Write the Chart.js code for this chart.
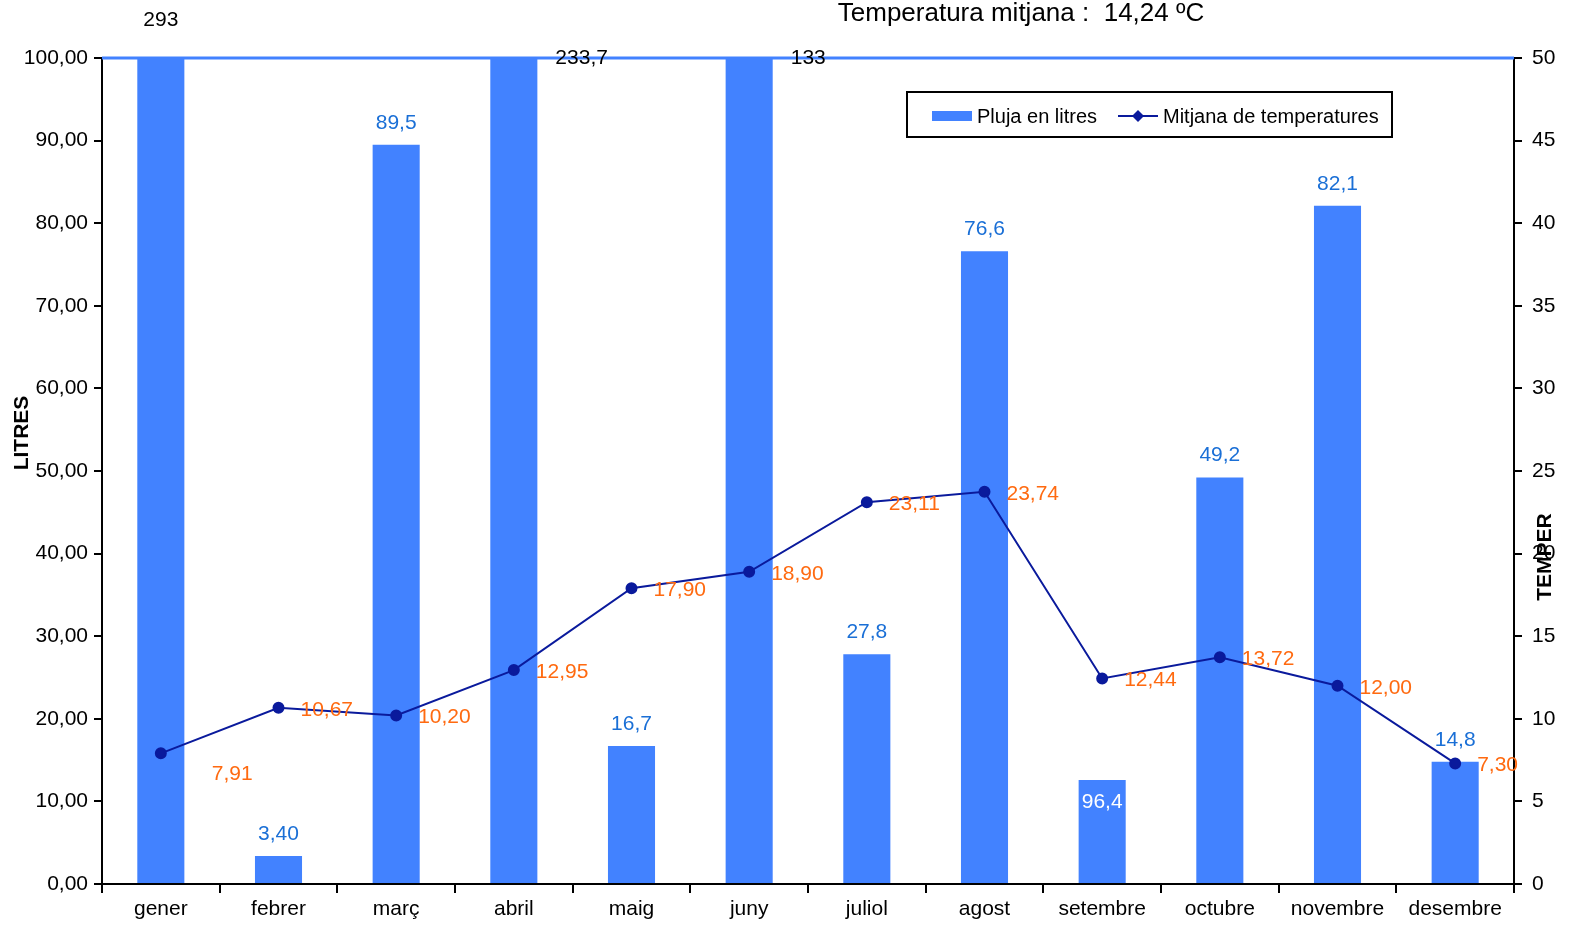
<!DOCTYPE html>
<html>
<head>
<meta charset="utf-8">
<script src="https://cdn.jsdelivr.net/npm/chart.js@4/dist/chart.umd.min.js"></script>
<style>
  html, body { margin: 0; padding: 0; background: #fff; overflow: hidden; }
  #wrap { position: relative; width: 1591px; height: 939px; }
  canvas { display: block; }
</style>
</head>
<body>
<div id="wrap"><canvas id="rainChart"></canvas></div>
<script>
// dades
const months = ['gener', 'febrer', 'març', 'abril', 'maig', 'juny', 'juliol', 'agost', 'setembre', 'octubre', 'novembre', 'desembre'];
const rain = [293, 3.40, 89.5, 233.7, 16.7, 133, 27.8, 76.6, 12.6, 49.2, 82.1, 14.8];
const rainLabels = ['293', '3,40', '89,5', '233,7', '16,7', '133', '27,8', '76,6', '96,4', '49,2', '82,1', '14,8'];
const temps = [7.91, 10.67, 10.20, 12.95, 17.90, 18.90, 23.11, 23.74, 12.44, 13.72, 12.00, 7.30];
const litresMax = 100, litresStep = 10;
const tempMax = 50, tempStep = 5;
const titleText = 'Temperatura mitjana :  14,24 ºC';

const FONT = "'Liberation Sans', Arial, sans-serif";
const BAR_BLUE = '#4282ff';
const LINE_BLUE = '#0a1a9c';
const LABEL_BLUE = '#1a6fd6';
const ORANGE = '#ff6a10';

const comma = (v, d) => v.toFixed(d).replace('.', ',');

// where the odd rain labels go (bars cut at the top, white label)
const rainLabelPlace = { 0: 'above', 3: 'right', 5: 'right', 8: 'inside' };

const extras = {
  id: 'extras',
  afterDatasetsDraw(chart) {
    const { ctx, chartArea: a } = chart;
    ctx.save();

    // blue line along the top of the plot
    ctx.strokeStyle = BAR_BLUE;
    ctx.lineWidth = 3;
    ctx.beginPath();
    ctx.moveTo(a.left, a.top);
    ctx.lineTo(a.right, a.top);
    ctx.stroke();

    ctx.font = '21px ' + FONT;
    ctx.textBaseline = 'middle';

    // rain labels
    chart.getDatasetMeta(0).data.forEach((bar, i) => {
      const place = rainLabelPlace[i];
      if (place === 'above') {
        ctx.fillStyle = '#000'; ctx.textAlign = 'center';
        ctx.fillText(rainLabels[i], bar.x, a.top - 38);
      } else if (place === 'right') {
        ctx.fillStyle = '#000'; ctx.textAlign = 'left';
        ctx.fillText(rainLabels[i], bar.x + bar.width / 2 + 18, a.top);
      } else if (place === 'inside') {
        ctx.fillStyle = '#fff'; ctx.textAlign = 'center';
        ctx.fillText(rainLabels[i], bar.x, bar.y + 22);
      } else {
        ctx.fillStyle = LABEL_BLUE; ctx.textAlign = 'center';
        ctx.fillText(rainLabels[i], bar.x, bar.y - 22);
      }
    });

    // temperature labels
    ctx.fillStyle = ORANGE;
    ctx.textAlign = 'left';
    chart.getDatasetMeta(1).data.forEach((pt, i) => {
      if (i === 0) ctx.fillText(comma(temps[i], 2), pt.x + 51, pt.y + 21);
      else ctx.fillText(comma(temps[i], 2), pt.x + 22, pt.y + 2);
    });

    // title
    ctx.fillStyle = '#000';
    ctx.textAlign = 'center';
    ctx.font = '26px ' + FONT;
    ctx.fillText(titleText, 1021, 14);

    // axis titles
    ctx.font = 'bold 21px ' + FONT;
    ctx.save();
    ctx.translate(22, 433);
    ctx.rotate(-Math.PI / 2);
    ctx.fillText('LITRES', 0, 0);
    ctx.restore();
    ctx.save();
    ctx.translate(1545, 557);
    ctx.rotate(-Math.PI / 2);
    ctx.fillText('TEMPER', 0, 0);
    ctx.restore();

    // legend
    ctx.fillStyle = '#fff';
    ctx.fillRect(907, 92, 485, 45);
    ctx.strokeStyle = '#000';
    ctx.lineWidth = 2;
    ctx.strokeRect(907, 92, 485, 45);
    ctx.fillStyle = BAR_BLUE;
    ctx.fillRect(932, 111, 40, 10);
    ctx.strokeStyle = LINE_BLUE;
    ctx.beginPath();
    ctx.moveTo(1118, 116); ctx.lineTo(1158, 116);
    ctx.stroke();
    ctx.fillStyle = LINE_BLUE;
    ctx.beginPath();
    ctx.moveTo(1138, 110); ctx.lineTo(1144, 116); ctx.lineTo(1138, 122); ctx.lineTo(1132, 116);
    ctx.closePath(); ctx.fill();
    ctx.fillStyle = '#000';
    ctx.textAlign = 'left';
    ctx.font = '20px ' + FONT;
    ctx.fillText(chart.data.datasets[0].label, 977, 117);
    ctx.fillText(chart.data.datasets[1].label, 1163, 117);

    ctx.restore();
  }
};

const ctx = document.getElementById('rainChart').getContext('2d');
const rainChart = new Chart(ctx, {
  type: 'bar',
  data: {
    labels: months,
    datasets: [
      {
        label: 'Pluja en litres',
        data: rain,
        yAxisID: 'y',
        backgroundColor: BAR_BLUE,
        barPercentage: 0.4,
        categoryPercentage: 1,
        order: 1
      },
      {
        type: 'line',
        label: 'Mitjana de temperatures',
        data: temps,
        yAxisID: 'y1',
        borderColor: LINE_BLUE,
        backgroundColor: LINE_BLUE,
        borderWidth: 2,
        pointStyle: 'circle',
        pointRadius: 5,
        tension: 0,
        order: 0
      }
    ]
  },
  options: {
    responsive: true,
    maintainAspectRatio: false,
    animation: false,
    layout: { padding: { top: 58, left: 0, right: 0, bottom: 0 } },
    plugins: { legend: { display: false }, tooltip: { enabled: false } },
    scales: {
      x: {
        offset: true,
        grid: { offset: true, drawOnChartArea: false, tickLength: 9, color: '#000', lineWidth: 2 },
        border: { color: '#000', width: 2 },
        ticks: { color: '#000', font: { family: FONT, size: 21 }, padding: 4, maxRotation: 0 },
        afterFit(s) { s.height = 55; }
      },
      y: {
        position: 'left',
        min: 0, max: litresMax,
        grid: { drawOnChartArea: false, tickLength: 8, color: '#000', lineWidth: 2 },
        border: { color: '#000', width: 2 },
        ticks: { stepSize: litresStep, color: '#000', font: { family: FONT, size: 21 }, padding: 6, callback: v => comma(v, 2) },
        afterFit(s) { s.width = 102; }
      },
      y1: {
        position: 'right',
        min: 0, max: tempMax,
        grid: { drawOnChartArea: false, tickLength: 8, color: '#000', lineWidth: 2 },
        border: { color: '#000', width: 2 },
        ticks: { stepSize: tempStep, color: '#000', font: { family: FONT, size: 21 }, padding: 10 },
        afterFit(s) { s.width = 77; }
      }
    }
  },
  plugins: [extras]
});
</script>
</body>
</html>
